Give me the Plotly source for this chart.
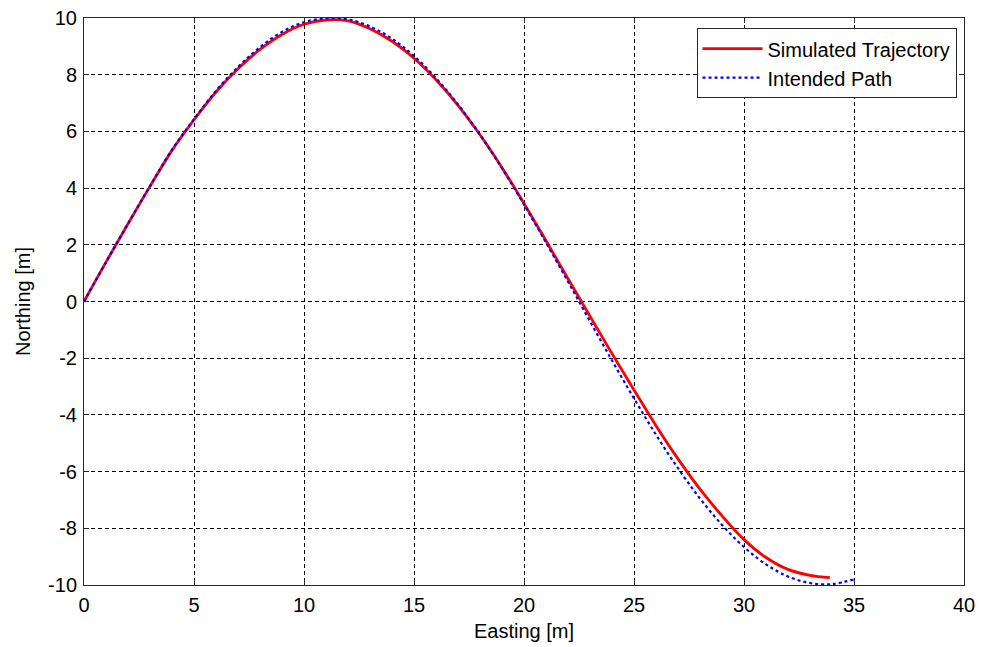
import plotly.graph_objects as go

# Intended path (blue, dotted)
path_east = [0, 1, 2, 3, 4, 5, 6, 7, 8, 9, 10, 11, 12, 13, 14, 15, 16, 17, 18,
             19, 20, 21, 22, 23, 24, 25, 26, 27, 28, 29, 30, 31, 32, 33, 34, 35]
path_north = [0.0, 1.39, 2.74, 4.07, 5.35, 6.43, 7.43, 8.27, 8.97, 9.51, 9.85,
              9.99, 9.95, 9.70, 9.27, 8.66, 7.88, 6.95, 5.88, 4.70, 3.42, 2.08,
              0.70, -0.70, -2.08, -3.42, -4.70, -5.88, -6.95, -7.88, -8.66,
              -9.27, -9.70, -9.93, -9.97, -9.80]

# Simulated trajectory (red, solid)
sim_east = [0, 1, 2, 3, 4, 5, 6, 7, 8, 9, 10, 11, 12, 13, 14, 15, 16, 17, 18,
            19, 20, 21, 22, 23, 24, 25, 26, 27, 28, 29, 30, 31, 32, 33, 33.9]
sim_north = [0.0, 1.39, 2.74, 4.06, 5.33, 6.41, 7.39, 8.21, 8.89, 9.42, 9.78,
             9.93, 9.90, 9.62, 9.18, 8.58, 7.82, 6.92, 5.88, 4.72, 3.46, 2.14,
             0.80, -0.52, -1.84, -3.12, -4.38, -5.55, -6.62, -7.56, -8.40,
             -9.03, -9.45, -9.66, -9.74]

x_ticks = [0, 5, 10, 15, 20, 25, 30, 35, 40]
y_ticks = [-10, -8, -6, -4, -2, 0, 2, 4, 6, 8, 10]

FONT = "Arial, Liberation Sans"
FSIZE = 20

fig = go.Figure()
fig.add_trace(go.Scatter(
    x=sim_east, y=sim_north, mode="lines", name="Simulated Trajectory",
    line=dict(color="#ff0000", width=2.8, shape="spline"),
))
fig.add_trace(go.Scatter(
    x=path_east, y=path_north, mode="lines", name="Intended Path",
    line=dict(color="#0000ff", width=2.2, dash="dot", shape="spline"),
))

axis_common = dict(
    showgrid=True, gridcolor="#000000", gridwidth=1, griddash="4px,3px",
    showline=True, linecolor="#262626", linewidth=1, mirror="ticks",
    ticks="inside", ticklen=5, tickcolor="#262626",
    zeroline=False, automargin=False,
    tickfont=dict(family=FONT, size=FSIZE, color="#000000"),
)

fig.update_xaxes(
    range=[0, 40], tickvals=x_ticks, ticktext=[str(v) for v in x_ticks],
    ticklabelstandoff=2,
    title=dict(text="Easting [m]", font=dict(family=FONT, size=FSIZE, color="#000000"), standoff=8),
    **axis_common,
)
fig.update_yaxes(
    range=[-10, 10], tickvals=y_ticks, ticktext=[str(v) for v in y_ticks],
    ticklabelstandoff=2,
    title=dict(text="Northing [m]", font=dict(family=FONT, size=FSIZE, color="#000000"), standoff=12),
    **axis_common,
)

fig.update_layout(
    width=981, height=647,
    margin=dict(l=84, r=17, t=18, b=62),
    plot_bgcolor="#ffffff", paper_bgcolor="#ffffff",
    font=dict(family=FONT, size=FSIZE, color="#000000"),
    showlegend=True,
    legend=dict(
        x=0.9915, y=0.982, xanchor="right", yanchor="top",
        bgcolor="#ffffff", bordercolor="#262626", borderwidth=1,
        font=dict(family=FONT, size=FSIZE, color="#000000"),
        itemwidth=60, tracegroupgap=0,
    ),
)

fig.write_html("out.html")
